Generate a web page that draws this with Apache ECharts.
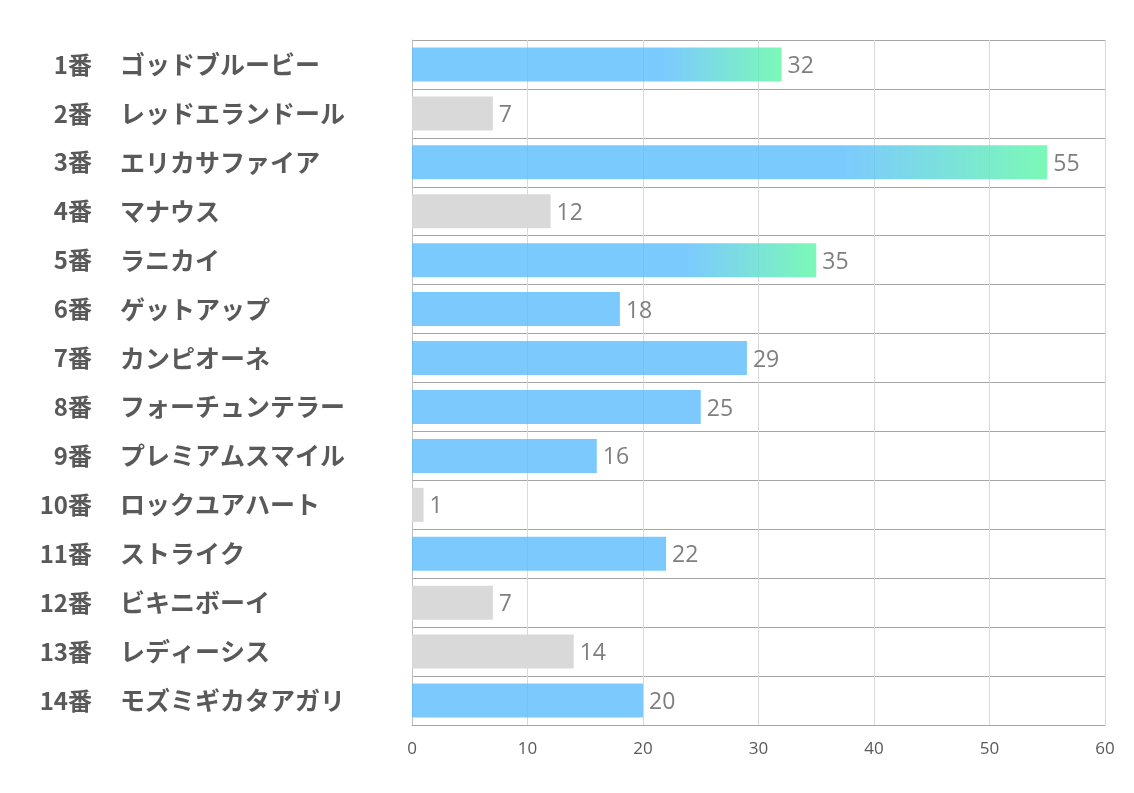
<!DOCTYPE html>
<html>
<head>
<meta charset="utf-8">
<script src="https://cdn.jsdelivr.net/npm/echarts@6/dist/echarts.min.js"></script>
<style>
  html, body { margin: 0; padding: 0; background: #fff; }
  #chart { width: 1134px; height: 793px; }
</style>
</head>
<body>
<div id="chart"></div>
<script>
// 馬番・馬名・値
const horseNumbers = ['1番', '2番', '3番', '4番', '5番', '6番', '7番', '8番', '9番', '10番', '11番', '12番', '13番', '14番']
const horseNames = ['ゴッドブルービー', 'レッドエランドール', 'エリカサファイア', 'マナウス', 'ラニカイ', 'ゲットアップ', 'カンピオーネ', 'フォーチュンテラー', 'プレミアムスマイル', 'ロックユアハート', 'ストライク', 'ビキニボーイ', 'レディーシス', 'モズミギカタアガリ']
const scores = [32, 7, 55, 12, 35, 18, 29, 25, 16, 1, 22, 7, 14, 20]
const grayHorses = ['2番', '4番', '10番', '12番', '13番']
const xTicks = [0, 10, 20, 30, 40, 50, 60]

// 上位3頭
const top3 = [...scores].sort((a, b) => b - a).slice(0, 3)

const blue = 'rgba(91, 189, 253, 0.8)'
const gray = '#d9d9d9'
const gradient = new echarts.graphic.LinearGradient(0, 0, 1, 0, [
  { offset: 0, color: blue },
  { offset: 0.68, color: blue },
  { offset: 1, color: 'rgba(100, 248, 170, 0.85)' }
])

const barData = scores.map((v, i) => {
  let color = blue
  if (grayHorses.includes(horseNumbers[i])) color = gray
  else if (top3.includes(v)) color = gradient
  return { value: v, itemStyle: { color } }
})

const labelFont = { fontSize: 24, fontWeight: 'bold', color: '#595959', fontFamily: 'Noto Sans CJK JP' }

const chart = echarts.init(document.getElementById('chart'))
chart.setOption({
  animation: false,
  grid: { left: 412, right: 29, top: 40, bottom: 68 },
  xAxis: {
    type: 'value',
    min: xTicks[0],
    max: xTicks[xTicks.length - 1],
    interval: 10,
    axisLine: { show: true, lineStyle: { color: '#a6a6a6' } },
    axisTick: { show: false },
    axisLabel: { margin: 16, fontSize: 17, color: '#595959', fontFamily: 'Liberation Sans Narrow, Open Sans' },
    splitLine: { show: true, lineStyle: { color: '#d9d9d9' } }
  },
  yAxis: [
    {
      type: 'category',
      inverse: true,
      data: horseNumbers,
      axisLine: { show: true, lineStyle: { color: '#bfbfbf' } },
      axisTick: { show: false },
      splitLine: { show: true, lineStyle: { color: '#a6a6a6' } },
      axisLabel: Object.assign({ margin: 320, align: 'right' }, labelFont)
    },
    {
      type: 'category',
      inverse: true,
      position: 'left',
      data: horseNames,
      axisLine: { show: false },
      axisTick: { show: false },
      splitLine: { show: false },
      axisLabel: Object.assign({ margin: 292, align: 'left' }, labelFont, { fontSize: 25 })
    }
  ],
  series: [{
    type: 'bar',
    data: barData,
    barWidth: 34,
    label: {
      show: true,
      position: 'right',
      distance: 6,
      offset: [0, 2],
      fontSize: 23,
      color: '#7f7f7f',
      fontFamily: 'Open Sans'
    }
  }]
})
</script>
</body>
</html>
